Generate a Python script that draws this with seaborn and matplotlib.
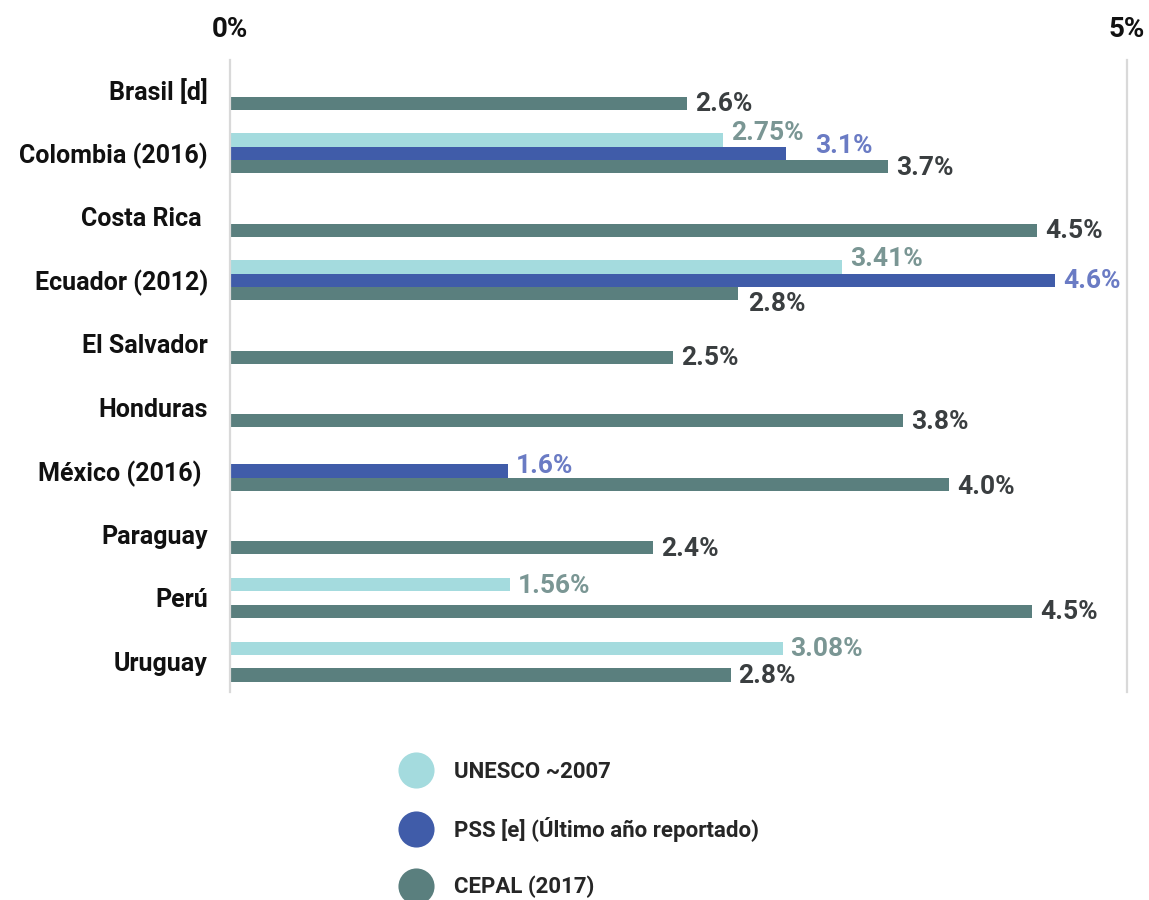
import matplotlib
matplotlib.use("Agg")
import matplotlib.pyplot as plt
from matplotlib.lines import Line2D
import numpy as np
import pandas as pd
import seaborn as sns

# ---------------- data ----------------
countries = ["Brasil [d]", "Colombia (2016)", "Costa Rica ", "Ecuador (2012)", "El Salvador",
             "Honduras", "México (2016) ", "Paraguay", "Perú", "Uruguay"]
sources = ["UNESCO ~2007", "PSS [e] (Último año reportado)", "CEPAL (2017)"]

unesco = [np.nan, 2.75, np.nan, 3.41, np.nan, np.nan, np.nan, np.nan, 1.56, 3.08]
pss = [np.nan, 3.10, np.nan, 4.60, np.nan, np.nan, 1.55, np.nan, np.nan, np.nan]
cepal = [2.55, 3.67, 4.50, 2.83, 2.47, 3.75, 4.01, 2.36, 4.47, 2.79]

unesco_labels = ["", "2.75%", "", "3.41%", "", "", "", "", "1.56%", "3.08%"]
pss_labels = ["", "3.1%", "", "4.6%", "", "", "1.6%", "", "", ""]
cepal_labels = ["2.6%", "3.7%", "4.5%", "2.8%", "2.5%", "3.8%", "4.0%", "2.4%", "4.5%", "2.8%"]

x_ticks = [0, 5]
x_tick_labels = ["0%", "5%"]

# ---------------- style ----------------
bar_colors = ["#a4dbde", "#405ca9", "#5a7f7e"]
label_colors = ["#7a9694", "#6a7bc4", "#3a3e40"]
FONT = ["Roboto", "DejaVu Sans"]

sns.set_theme(style="white")
plt.rcParams["font.family"] = FONT
plt.rcParams["font.weight"] = "bold"

rows = []
for src, vals in zip(sources, [unesco, pss, cepal]):
    for c, v in zip(countries, vals):
        if not np.isnan(v):
            rows.append({"country": c, "source": src, "value": v})
df = pd.DataFrame(rows)

fig = plt.figure(figsize=(11.49, 9.0), dpi=100)
ax = fig.add_axes([230 / 1149, 1 - 692 / 900, (1127 - 230) / 1149, (692 - 60) / 900])

sns.barplot(data=df, y="country", x="value", hue="source", order=countries,
            hue_order=sources, palette=bar_colors, orient="h", width=0.63,
            errorbar=None, saturation=1, legend=False, ax=ax, linewidth=0)

ax.set_xlim(0, 5)
ax.set_ylim(9.48, -0.47)
ax.set_xlabel("")
ax.set_ylabel("")
ax.xaxis.tick_top()
ax.set_xticks(x_ticks)
ax.set_xticklabels(x_tick_labels, fontsize=20, fontweight="bold", color="#111111")
ax.tick_params(axis="x", length=0, pad=12)
ax.tick_params(axis="y", length=0, pad=16)
for t in ax.get_yticklabels():
    t.set_fontsize(18)
    t.set_fontweight("bold")
    t.set_color("#111111")

for s in ["top", "bottom"]:
    ax.spines[s].set_visible(False)
for s in ["left", "right"]:
    ax.spines[s].set_color("#d9d9d9")
    ax.spines[s].set_linewidth(1.6)

# value labels
all_labels = [unesco_labels, pss_labels, cepal_labels]
# manual nudges (pixels) to avoid overlap, keyed by (source index, country index)
nudges = {(0, 1): (0, 8), (1, 1): (21, 8), (0, 3): (0, 9), (2, 3): (2, -9),
          (1, 6): (0, 6), (2, 6): (0, -2)}
for si, cont in enumerate(ax.containers):
    for bar in cont:
        w = bar.get_width()
        if not np.isfinite(w) or w <= 0:
            continue
        yc = bar.get_y() + bar.get_height() / 2
        ci = int(round(yc))
        txt = all_labels[si][ci]
        if not txt:
            continue
        dx, dy = nudges.get((si, ci), (0, 0))
        ax.annotate(txt, xy=(w, yc), xytext=(8 + dx, dy - 1), textcoords="offset pixels",
                    ha="left", va="center", fontsize=19, fontweight="bold",
                    color=label_colors[si])

handles = [Line2D([], [], marker="o", ls="", markersize=26, color=c,
                  markeredgewidth=0) for c in bar_colors]
fig.legend(handles, sources, loc="upper left", bbox_to_anchor=(405 / 1149, 1 - 761 / 900),
           frameon=False, handlelength=1.0, handletextpad=1.2, labelspacing=1.53,
           borderpad=0, borderaxespad=0,
           prop={"family": FONT, "weight": "bold", "size": 16})

fig.savefig("out.png", dpi=100)
